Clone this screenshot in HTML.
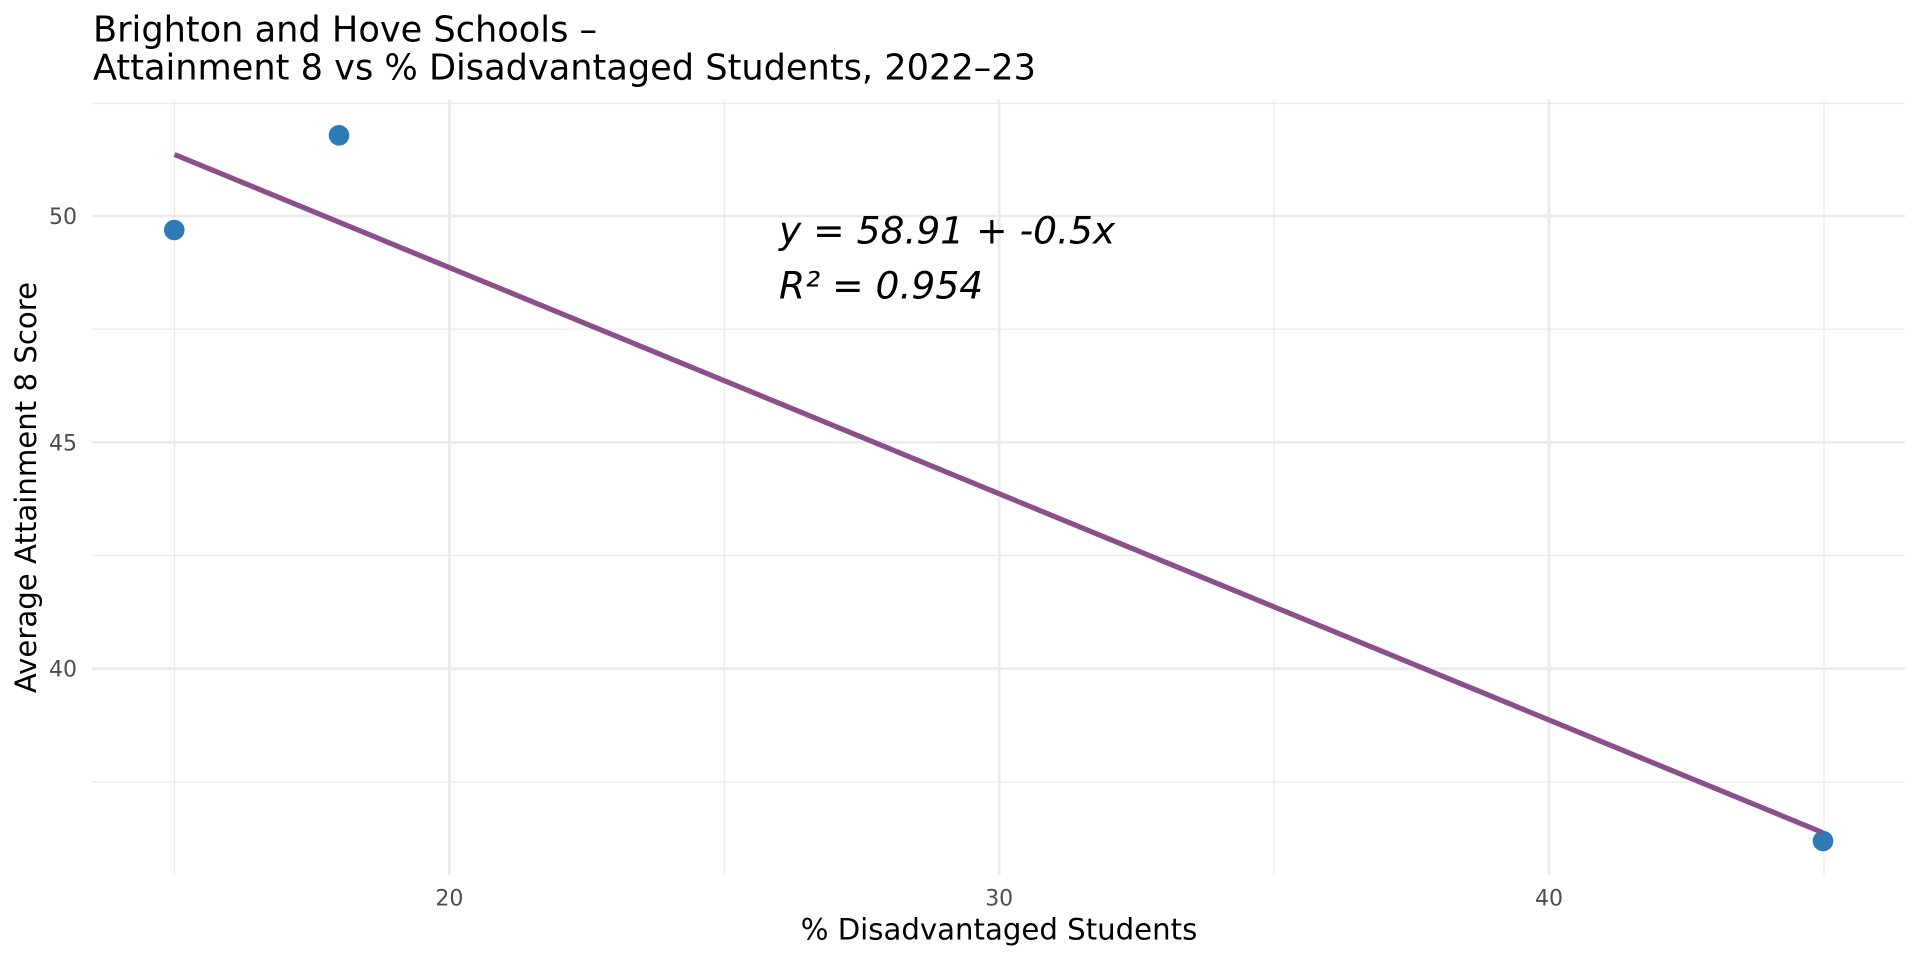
<!DOCTYPE html>
<html>
<head>
<meta charset="utf-8">
<style>
  html, body { margin: 0; padding: 0; background: #ffffff; }
  body { width: 1920px; height: 960px; overflow: hidden; }
  svg { display: block; }
  text { font-family: "DejaVu Sans", "Liberation Sans", sans-serif; }
</style>
</head>
<body>
<svg width="1920" height="960" viewBox="0 0 1920 960" xmlns="http://www.w3.org/2000/svg">
  <rect x="0" y="0" width="1920" height="960" fill="#ffffff"/>

  <!-- minor gridlines -->
  <g stroke="#EBEBEB" stroke-width="1.35" fill="none">
    <line x1="92" y1="103.4" x2="1905" y2="103.4"/>
    <line x1="92" y1="329.2" x2="1905" y2="329.2"/>
    <line x1="92" y1="555.5" x2="1905" y2="555.5"/>
    <line x1="92" y1="781.9" x2="1905" y2="781.9"/>
    <line x1="174.5" y1="100" x2="174.5" y2="875"/>
    <line x1="724.3" y1="100" x2="724.3" y2="875"/>
    <line x1="1274.1" y1="100" x2="1274.1" y2="875"/>
    <line x1="1824" y1="100" x2="1824" y2="875"/>
  </g>
  <!-- major gridlines -->
  <g stroke="#EBEBEB" stroke-width="2.7" fill="none">
    <line x1="92" y1="216" x2="1905" y2="216"/>
    <line x1="92" y1="442.3" x2="1905" y2="442.3"/>
    <line x1="92" y1="668.7" x2="1905" y2="668.7"/>
    <line x1="449.4" y1="100" x2="449.4" y2="875"/>
    <line x1="999.2" y1="100" x2="999.2" y2="875"/>
    <line x1="1549" y1="100" x2="1549" y2="875"/>
  </g>

  <!-- points -->
  <g fill="#2C7BB6">
    <circle cx="174.3" cy="230" r="10.3"/>
    <circle cx="339" cy="135.3" r="10.3"/>
    <circle cx="1823" cy="841" r="10.3"/>
  </g>

  <!-- regression line -->
  <line x1="174.5" y1="154.5" x2="1822.5" y2="832.5" stroke="#8B4F8A" stroke-width="5.2"/>

  <!-- annotation -->
  <text x="779" y="243.3" font-size="37.6" font-style="italic" fill="#000000">y = 58.91 + -0.5x</text>
  <text x="779" y="298.3" font-size="37.6" font-style="italic" fill="#000000">R² = 0.954</text>

  <!-- y tick labels -->
  <g font-size="22" fill="#4D4D4D" text-anchor="end">
    <text x="77" y="224">50</text>
    <text x="77" y="450.3">45</text>
    <text x="77" y="676.7">40</text>
  </g>
  <!-- x tick labels -->
  <g font-size="22" fill="#4D4D4D" text-anchor="middle">
    <text x="449.4" y="905.7">20</text>
    <text x="999.2" y="905.7">30</text>
    <text x="1549" y="905.7">40</text>
  </g>

  <!-- axis titles -->
  <text x="999" y="939.5" font-size="29.2" fill="#000000" text-anchor="middle">% Disadvantaged Students</text>
  <text transform="translate(36,487.5) rotate(-90)" x="0" y="0" font-size="29.2" fill="#000000" text-anchor="middle">Average Attainment 8 Score</text>

  <!-- title -->
  <text x="93" y="41.7" font-size="35.15" fill="#000000">Brighton and Hove Schools –</text>
  <text x="93" y="79.3" font-size="35.15" fill="#000000">Attainment 8 vs % Disadvantaged Students, 2022–23</text>
</svg>
</body>
</html>
